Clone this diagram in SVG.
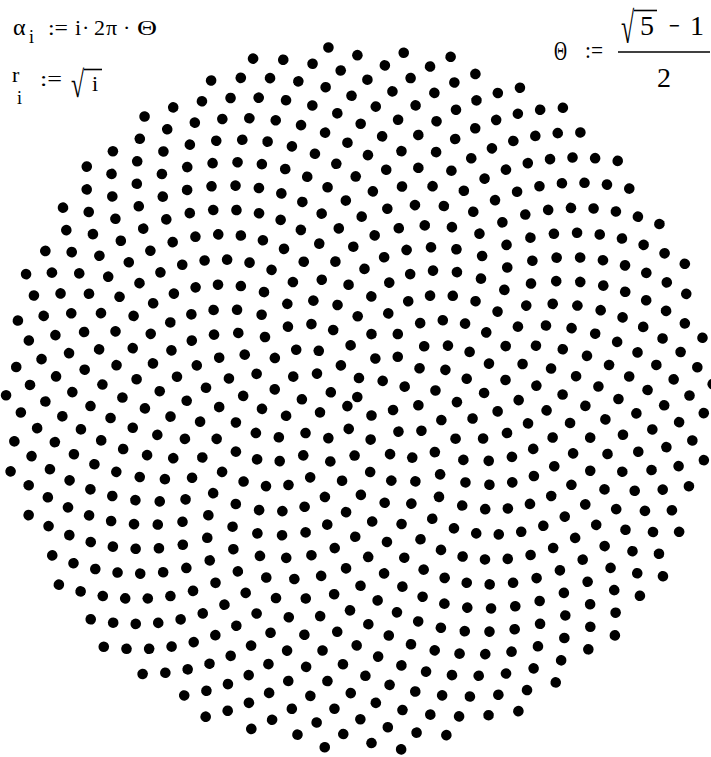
<svg xmlns="http://www.w3.org/2000/svg" width="711" height="757" viewBox="0 0 711 757">
<style>
#dots circle{r:5.3px;transform:rotate(calc(var(--i) * 137.50776405deg)) translateX(calc(sqrt(var(--i)) * 13.45px));}
text{font-family:"Liberation Serif",serif;font-size:22px;fill:#000}
.sub{font-size:18px}
.big{font-size:28px}
.ln{stroke:#000;stroke-width:1.6}
</style>
<rect width="711" height="757" fill="#fff"/>
<g id="formula-alpha">
<text x="13" y="35" style="font-size:24px">α</text><text class="sub" x="29" y="43">i</text><text x="48" y="35" textLength="20" lengthAdjust="spacingAndGlyphs">:=</text><text x="75" y="35">i</text><text x="82" y="35">·</text><text x="94" y="35">2</text><text x="106" y="35">π</text><text x="123" y="35">·</text><text x="137" y="35" textLength="20" lengthAdjust="spacingAndGlyphs">Θ</text>
</g>
<g id="formula-r">
<text x="12" y="82">r</text><text class="sub" x="17" y="104">i</text><text x="40" y="86" textLength="22" lengthAdjust="spacingAndGlyphs">:=</text><text x="0" y="0" transform="translate(71,96.9) scale(1,1.55)" style="font-size:24px">√</text><line class="ln" x1="84" y1="69.5" x2="102" y2="69.5"/><text x="92" y="91">i</text>
</g>
<g id="formula-theta">
<text x="554" y="60" style="font-size:27px" textLength="13" lengthAdjust="spacingAndGlyphs">Θ</text><text x="585" y="58" style="font-size:24px" textLength="18" lengthAdjust="spacingAndGlyphs">:=</text><text x="0" y="0" transform="translate(621,43.3) scale(1,1.85)" style="font-size:24px">√</text><line class="ln" x1="634" y1="10.5" x2="657" y2="10.5"/><text class="big" x="640" y="35">5</text><text class="big" x="669" y="35" textLength="11" lengthAdjust="spacingAndGlyphs">−</text><text class="big" x="690" y="35">1</text><line class="ln" x1="618" y1="52" x2="710" y2="52"/><text class="big" x="657" y="87">2</text>
</g>
<g id="dots" transform="translate(357.3,397)" fill="#000">
<circle style="--i:0"/><circle style="--i:1"/><circle style="--i:2"/><circle style="--i:3"/><circle style="--i:4"/><circle style="--i:5"/><circle style="--i:6"/><circle style="--i:7"/><circle style="--i:8"/><circle style="--i:9"/>
<circle style="--i:10"/><circle style="--i:11"/><circle style="--i:12"/><circle style="--i:13"/><circle style="--i:14"/><circle style="--i:15"/><circle style="--i:16"/><circle style="--i:17"/><circle style="--i:18"/><circle style="--i:19"/>
<circle style="--i:20"/><circle style="--i:21"/><circle style="--i:22"/><circle style="--i:23"/><circle style="--i:24"/><circle style="--i:25"/><circle style="--i:26"/><circle style="--i:27"/><circle style="--i:28"/><circle style="--i:29"/>
<circle style="--i:30"/><circle style="--i:31"/><circle style="--i:32"/><circle style="--i:33"/><circle style="--i:34"/><circle style="--i:35"/><circle style="--i:36"/><circle style="--i:37"/><circle style="--i:38"/><circle style="--i:39"/>
<circle style="--i:40"/><circle style="--i:41"/><circle style="--i:42"/><circle style="--i:43"/><circle style="--i:44"/><circle style="--i:45"/><circle style="--i:46"/><circle style="--i:47"/><circle style="--i:48"/><circle style="--i:49"/>
<circle style="--i:50"/><circle style="--i:51"/><circle style="--i:52"/><circle style="--i:53"/><circle style="--i:54"/><circle style="--i:55"/><circle style="--i:56"/><circle style="--i:57"/><circle style="--i:58"/><circle style="--i:59"/>
<circle style="--i:60"/><circle style="--i:61"/><circle style="--i:62"/><circle style="--i:63"/><circle style="--i:64"/><circle style="--i:65"/><circle style="--i:66"/><circle style="--i:67"/><circle style="--i:68"/><circle style="--i:69"/>
<circle style="--i:70"/><circle style="--i:71"/><circle style="--i:72"/><circle style="--i:73"/><circle style="--i:74"/><circle style="--i:75"/><circle style="--i:76"/><circle style="--i:77"/><circle style="--i:78"/><circle style="--i:79"/>
<circle style="--i:80"/><circle style="--i:81"/><circle style="--i:82"/><circle style="--i:83"/><circle style="--i:84"/><circle style="--i:85"/><circle style="--i:86"/><circle style="--i:87"/><circle style="--i:88"/><circle style="--i:89"/>
<circle style="--i:90"/><circle style="--i:91"/><circle style="--i:92"/><circle style="--i:93"/><circle style="--i:94"/><circle style="--i:95"/><circle style="--i:96"/><circle style="--i:97"/><circle style="--i:98"/><circle style="--i:99"/>
<circle style="--i:100"/><circle style="--i:101"/><circle style="--i:102"/><circle style="--i:103"/><circle style="--i:104"/><circle style="--i:105"/><circle style="--i:106"/><circle style="--i:107"/><circle style="--i:108"/><circle style="--i:109"/>
<circle style="--i:110"/><circle style="--i:111"/><circle style="--i:112"/><circle style="--i:113"/><circle style="--i:114"/><circle style="--i:115"/><circle style="--i:116"/><circle style="--i:117"/><circle style="--i:118"/><circle style="--i:119"/>
<circle style="--i:120"/><circle style="--i:121"/><circle style="--i:122"/><circle style="--i:123"/><circle style="--i:124"/><circle style="--i:125"/><circle style="--i:126"/><circle style="--i:127"/><circle style="--i:128"/><circle style="--i:129"/>
<circle style="--i:130"/><circle style="--i:131"/><circle style="--i:132"/><circle style="--i:133"/><circle style="--i:134"/><circle style="--i:135"/><circle style="--i:136"/><circle style="--i:137"/><circle style="--i:138"/><circle style="--i:139"/>
<circle style="--i:140"/><circle style="--i:141"/><circle style="--i:142"/><circle style="--i:143"/><circle style="--i:144"/><circle style="--i:145"/><circle style="--i:146"/><circle style="--i:147"/><circle style="--i:148"/><circle style="--i:149"/>
<circle style="--i:150"/><circle style="--i:151"/><circle style="--i:152"/><circle style="--i:153"/><circle style="--i:154"/><circle style="--i:155"/><circle style="--i:156"/><circle style="--i:157"/><circle style="--i:158"/><circle style="--i:159"/>
<circle style="--i:160"/><circle style="--i:161"/><circle style="--i:162"/><circle style="--i:163"/><circle style="--i:164"/><circle style="--i:165"/><circle style="--i:166"/><circle style="--i:167"/><circle style="--i:168"/><circle style="--i:169"/>
<circle style="--i:170"/><circle style="--i:171"/><circle style="--i:172"/><circle style="--i:173"/><circle style="--i:174"/><circle style="--i:175"/><circle style="--i:176"/><circle style="--i:177"/><circle style="--i:178"/><circle style="--i:179"/>
<circle style="--i:180"/><circle style="--i:181"/><circle style="--i:182"/><circle style="--i:183"/><circle style="--i:184"/><circle style="--i:185"/><circle style="--i:186"/><circle style="--i:187"/><circle style="--i:188"/><circle style="--i:189"/>
<circle style="--i:190"/><circle style="--i:191"/><circle style="--i:192"/><circle style="--i:193"/><circle style="--i:194"/><circle style="--i:195"/><circle style="--i:196"/><circle style="--i:197"/><circle style="--i:198"/><circle style="--i:199"/>
<circle style="--i:200"/><circle style="--i:201"/><circle style="--i:202"/><circle style="--i:203"/><circle style="--i:204"/><circle style="--i:205"/><circle style="--i:206"/><circle style="--i:207"/><circle style="--i:208"/><circle style="--i:209"/>
<circle style="--i:210"/><circle style="--i:211"/><circle style="--i:212"/><circle style="--i:213"/><circle style="--i:214"/><circle style="--i:215"/><circle style="--i:216"/><circle style="--i:217"/><circle style="--i:218"/><circle style="--i:219"/>
<circle style="--i:220"/><circle style="--i:221"/><circle style="--i:222"/><circle style="--i:223"/><circle style="--i:224"/><circle style="--i:225"/><circle style="--i:226"/><circle style="--i:227"/><circle style="--i:228"/><circle style="--i:229"/>
<circle style="--i:230"/><circle style="--i:231"/><circle style="--i:232"/><circle style="--i:233"/><circle style="--i:234"/><circle style="--i:235"/><circle style="--i:236"/><circle style="--i:237"/><circle style="--i:238"/><circle style="--i:239"/>
<circle style="--i:240"/><circle style="--i:241"/><circle style="--i:242"/><circle style="--i:243"/><circle style="--i:244"/><circle style="--i:245"/><circle style="--i:246"/><circle style="--i:247"/><circle style="--i:248"/><circle style="--i:249"/>
<circle style="--i:250"/><circle style="--i:251"/><circle style="--i:252"/><circle style="--i:253"/><circle style="--i:254"/><circle style="--i:255"/><circle style="--i:256"/><circle style="--i:257"/><circle style="--i:258"/><circle style="--i:259"/>
<circle style="--i:260"/><circle style="--i:261"/><circle style="--i:262"/><circle style="--i:263"/><circle style="--i:264"/><circle style="--i:265"/><circle style="--i:266"/><circle style="--i:267"/><circle style="--i:268"/><circle style="--i:269"/>
<circle style="--i:270"/><circle style="--i:271"/><circle style="--i:272"/><circle style="--i:273"/><circle style="--i:274"/><circle style="--i:275"/><circle style="--i:276"/><circle style="--i:277"/><circle style="--i:278"/><circle style="--i:279"/>
<circle style="--i:280"/><circle style="--i:281"/><circle style="--i:282"/><circle style="--i:283"/><circle style="--i:284"/><circle style="--i:285"/><circle style="--i:286"/><circle style="--i:287"/><circle style="--i:288"/><circle style="--i:289"/>
<circle style="--i:290"/><circle style="--i:291"/><circle style="--i:292"/><circle style="--i:293"/><circle style="--i:294"/><circle style="--i:295"/><circle style="--i:296"/><circle style="--i:297"/><circle style="--i:298"/><circle style="--i:299"/>
<circle style="--i:300"/><circle style="--i:301"/><circle style="--i:302"/><circle style="--i:303"/><circle style="--i:304"/><circle style="--i:305"/><circle style="--i:306"/><circle style="--i:307"/><circle style="--i:308"/><circle style="--i:309"/>
<circle style="--i:310"/><circle style="--i:311"/><circle style="--i:312"/><circle style="--i:313"/><circle style="--i:314"/><circle style="--i:315"/><circle style="--i:316"/><circle style="--i:317"/><circle style="--i:318"/><circle style="--i:319"/>
<circle style="--i:320"/><circle style="--i:321"/><circle style="--i:322"/><circle style="--i:323"/><circle style="--i:324"/><circle style="--i:325"/><circle style="--i:326"/><circle style="--i:327"/><circle style="--i:328"/><circle style="--i:329"/>
<circle style="--i:330"/><circle style="--i:331"/><circle style="--i:332"/><circle style="--i:333"/><circle style="--i:334"/><circle style="--i:335"/><circle style="--i:336"/><circle style="--i:337"/><circle style="--i:338"/><circle style="--i:339"/>
<circle style="--i:340"/><circle style="--i:341"/><circle style="--i:342"/><circle style="--i:343"/><circle style="--i:344"/><circle style="--i:345"/><circle style="--i:346"/><circle style="--i:347"/><circle style="--i:348"/><circle style="--i:349"/>
<circle style="--i:350"/><circle style="--i:351"/><circle style="--i:352"/><circle style="--i:353"/><circle style="--i:354"/><circle style="--i:355"/><circle style="--i:356"/><circle style="--i:357"/><circle style="--i:358"/><circle style="--i:359"/>
<circle style="--i:360"/><circle style="--i:361"/><circle style="--i:362"/><circle style="--i:363"/><circle style="--i:364"/><circle style="--i:365"/><circle style="--i:366"/><circle style="--i:367"/><circle style="--i:368"/><circle style="--i:369"/>
<circle style="--i:370"/><circle style="--i:371"/><circle style="--i:372"/><circle style="--i:373"/><circle style="--i:374"/><circle style="--i:375"/><circle style="--i:376"/><circle style="--i:377"/><circle style="--i:378"/><circle style="--i:379"/>
<circle style="--i:380"/><circle style="--i:381"/><circle style="--i:382"/><circle style="--i:383"/><circle style="--i:384"/><circle style="--i:385"/><circle style="--i:386"/><circle style="--i:387"/><circle style="--i:388"/><circle style="--i:389"/>
<circle style="--i:390"/><circle style="--i:391"/><circle style="--i:392"/><circle style="--i:393"/><circle style="--i:394"/><circle style="--i:395"/><circle style="--i:396"/><circle style="--i:397"/><circle style="--i:398"/><circle style="--i:399"/>
<circle style="--i:400"/><circle style="--i:401"/><circle style="--i:402"/><circle style="--i:403"/><circle style="--i:404"/><circle style="--i:405"/><circle style="--i:406"/><circle style="--i:407"/><circle style="--i:408"/><circle style="--i:409"/>
<circle style="--i:410"/><circle style="--i:411"/><circle style="--i:412"/><circle style="--i:413"/><circle style="--i:414"/><circle style="--i:415"/><circle style="--i:416"/><circle style="--i:417"/><circle style="--i:418"/><circle style="--i:419"/>
<circle style="--i:420"/><circle style="--i:421"/><circle style="--i:422"/><circle style="--i:423"/><circle style="--i:424"/><circle style="--i:425"/><circle style="--i:426"/><circle style="--i:427"/><circle style="--i:428"/><circle style="--i:429"/>
<circle style="--i:430"/><circle style="--i:431"/><circle style="--i:432"/><circle style="--i:433"/><circle style="--i:434"/><circle style="--i:435"/><circle style="--i:436"/><circle style="--i:437"/><circle style="--i:438"/><circle style="--i:439"/>
<circle style="--i:440"/><circle style="--i:441"/><circle style="--i:442"/><circle style="--i:443"/><circle style="--i:444"/><circle style="--i:445"/><circle style="--i:446"/><circle style="--i:447"/><circle style="--i:448"/><circle style="--i:449"/>
<circle style="--i:450"/><circle style="--i:451"/><circle style="--i:452"/><circle style="--i:453"/><circle style="--i:454"/><circle style="--i:455"/><circle style="--i:456"/><circle style="--i:457"/><circle style="--i:458"/><circle style="--i:459"/>
<circle style="--i:460"/><circle style="--i:461"/><circle style="--i:462"/><circle style="--i:463"/><circle style="--i:464"/><circle style="--i:465"/><circle style="--i:466"/><circle style="--i:467"/><circle style="--i:468"/><circle style="--i:469"/>
<circle style="--i:470"/><circle style="--i:471"/><circle style="--i:472"/><circle style="--i:473"/><circle style="--i:474"/><circle style="--i:475"/><circle style="--i:476"/><circle style="--i:477"/><circle style="--i:478"/><circle style="--i:479"/>
<circle style="--i:480"/><circle style="--i:481"/><circle style="--i:482"/><circle style="--i:483"/><circle style="--i:484"/><circle style="--i:485"/><circle style="--i:486"/><circle style="--i:487"/><circle style="--i:488"/><circle style="--i:489"/>
<circle style="--i:490"/><circle style="--i:491"/><circle style="--i:492"/><circle style="--i:493"/><circle style="--i:494"/><circle style="--i:495"/><circle style="--i:496"/><circle style="--i:497"/><circle style="--i:498"/><circle style="--i:499"/>
<circle style="--i:500"/><circle style="--i:501"/><circle style="--i:502"/><circle style="--i:503"/><circle style="--i:504"/><circle style="--i:505"/><circle style="--i:506"/><circle style="--i:507"/><circle style="--i:508"/><circle style="--i:509"/>
<circle style="--i:510"/><circle style="--i:511"/><circle style="--i:512"/><circle style="--i:513"/><circle style="--i:514"/><circle style="--i:515"/><circle style="--i:516"/><circle style="--i:517"/><circle style="--i:518"/><circle style="--i:519"/>
<circle style="--i:520"/><circle style="--i:521"/><circle style="--i:522"/><circle style="--i:523"/><circle style="--i:524"/><circle style="--i:525"/><circle style="--i:526"/><circle style="--i:527"/><circle style="--i:528"/><circle style="--i:529"/>
<circle style="--i:530"/><circle style="--i:531"/><circle style="--i:532"/><circle style="--i:533"/><circle style="--i:534"/><circle style="--i:535"/><circle style="--i:536"/><circle style="--i:537"/><circle style="--i:538"/><circle style="--i:539"/>
<circle style="--i:540"/><circle style="--i:541"/><circle style="--i:542"/><circle style="--i:543"/><circle style="--i:544"/><circle style="--i:545"/><circle style="--i:546"/><circle style="--i:547"/><circle style="--i:548"/><circle style="--i:549"/>
<circle style="--i:550"/><circle style="--i:551"/><circle style="--i:552"/><circle style="--i:553"/><circle style="--i:554"/><circle style="--i:555"/><circle style="--i:556"/><circle style="--i:557"/><circle style="--i:558"/><circle style="--i:559"/>
<circle style="--i:560"/><circle style="--i:561"/><circle style="--i:562"/><circle style="--i:563"/><circle style="--i:564"/><circle style="--i:565"/><circle style="--i:566"/><circle style="--i:567"/><circle style="--i:568"/><circle style="--i:569"/>
<circle style="--i:570"/><circle style="--i:571"/><circle style="--i:572"/><circle style="--i:573"/><circle style="--i:574"/><circle style="--i:575"/><circle style="--i:576"/><circle style="--i:577"/><circle style="--i:578"/><circle style="--i:579"/>
<circle style="--i:580"/><circle style="--i:581"/><circle style="--i:582"/><circle style="--i:583"/><circle style="--i:584"/><circle style="--i:585"/><circle style="--i:586"/><circle style="--i:587"/><circle style="--i:588"/><circle style="--i:589"/>
<circle style="--i:590"/><circle style="--i:591"/><circle style="--i:592"/><circle style="--i:593"/><circle style="--i:594"/><circle style="--i:595"/><circle style="--i:596"/><circle style="--i:597"/><circle style="--i:598"/><circle style="--i:599"/>
<circle style="--i:600"/><circle style="--i:601"/><circle style="--i:602"/><circle style="--i:603"/><circle style="--i:604"/><circle style="--i:605"/><circle style="--i:606"/><circle style="--i:607"/><circle style="--i:608"/><circle style="--i:609"/>
<circle style="--i:610"/><circle style="--i:611"/><circle style="--i:612"/><circle style="--i:613"/><circle style="--i:614"/><circle style="--i:615"/><circle style="--i:616"/><circle style="--i:617"/><circle style="--i:618"/><circle style="--i:619"/>
<circle style="--i:620"/><circle style="--i:621"/><circle style="--i:622"/><circle style="--i:623"/><circle style="--i:624"/><circle style="--i:625"/><circle style="--i:626"/><circle style="--i:627"/><circle style="--i:628"/><circle style="--i:629"/>
<circle style="--i:630"/><circle style="--i:631"/><circle style="--i:632"/><circle style="--i:633"/><circle style="--i:634"/><circle style="--i:635"/><circle style="--i:636"/><circle style="--i:637"/><circle style="--i:638"/><circle style="--i:639"/>
<circle style="--i:640"/><circle style="--i:641"/><circle style="--i:642"/><circle style="--i:643"/><circle style="--i:644"/><circle style="--i:645"/><circle style="--i:646"/><circle style="--i:647"/><circle style="--i:648"/><circle style="--i:649"/>
<circle style="--i:650"/><circle style="--i:651"/><circle style="--i:652"/><circle style="--i:653"/><circle style="--i:654"/><circle style="--i:655"/><circle style="--i:656"/><circle style="--i:657"/><circle style="--i:658"/><circle style="--i:659"/>
<circle style="--i:660"/><circle style="--i:661"/><circle style="--i:662"/><circle style="--i:663"/><circle style="--i:664"/><circle style="--i:665"/><circle style="--i:666"/><circle style="--i:667"/><circle style="--i:668"/><circle style="--i:669"/>
<circle style="--i:670"/><circle style="--i:671"/><circle style="--i:672"/><circle style="--i:673"/><circle style="--i:674"/><circle style="--i:675"/><circle style="--i:676"/><circle style="--i:677"/><circle style="--i:678"/><circle style="--i:679"/>
<circle style="--i:680"/><circle style="--i:681"/><circle style="--i:682"/><circle style="--i:683"/><circle style="--i:684"/><circle style="--i:685"/><circle style="--i:686"/><circle style="--i:687"/><circle style="--i:688"/><circle style="--i:689"/>
<circle style="--i:690"/><circle style="--i:691"/><circle style="--i:692"/><circle style="--i:693"/><circle style="--i:694"/><circle style="--i:695"/><circle style="--i:696"/><circle style="--i:697"/><circle style="--i:698"/><circle style="--i:699"/>
<circle style="--i:700"/>
</g>
</svg>
